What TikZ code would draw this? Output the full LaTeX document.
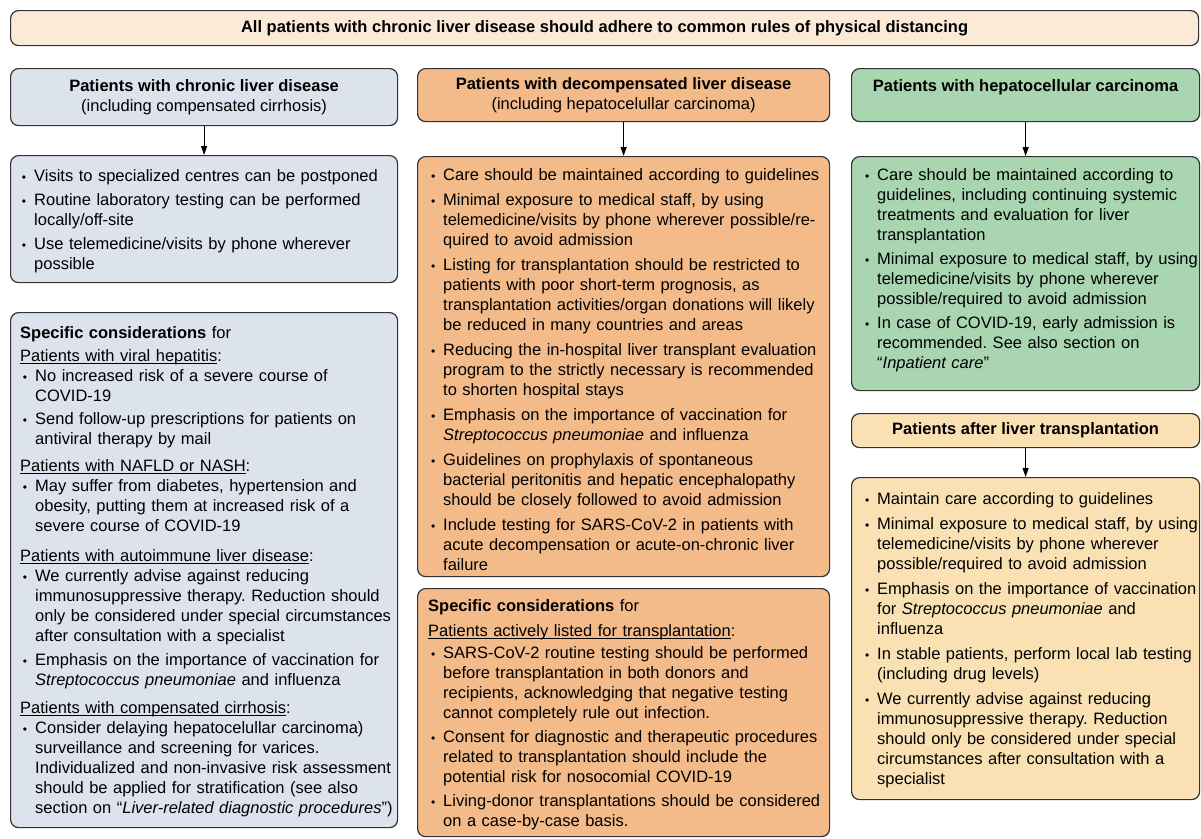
\documentclass[tikz,border=0pt]{standalone}
\usepackage{fontspec}
\setmainfont{Liberation Sans}
\usepackage{enumitem}
\usetikzlibrary{arrows.meta}

\definecolor{graublau}{HTML}{DDE3EC}
\definecolor{lachs}{HTML}{F4BB8A}
\definecolor{gruen}{HTML}{A9D5B1}
\definecolor{sand}{HTML}{F9E1B3}
\definecolor{creme}{HTML}{FAEAD7}
\definecolor{rand}{HTML}{333333}

\setlist[itemize]{label={\fontsize{12}{12}\selectfont\textbullet}, leftmargin=15pt,
  labelsep=8pt, topsep=0pt, partopsep=0pt, parsep=0pt, itemsep=5pt}
\newcommand{\unter}[1]{\leavevmode\setbox0\hbox{#1}\rlap{\rule[-2.6pt]{\wd0}{0.9pt}}\box0}
\frenchspacing

\begin{document}
\begin{tikzpicture}[x=1pt,y=-1pt,
  kasten/.style={draw=rand, line width=1.2pt, rounded corners=8pt, fill=#1,
    inner sep=0pt, anchor=north west, align=center,
    font=\fontsize{16.5}{20}\selectfont},
  liste/.style={inner sep=0pt, anchor=north west, text width=#1,
    font=\fontsize{16.5}{20}\selectfont},
  pfeil/.style={-{Triangle[length=9pt,width=6pt]}, line width=1.2pt, draw=black}]
  \useasboundingbox (0,0) rectangle (1201,838);

  % Kopfzeile
  \node[kasten=creme, minimum width=1188, minimum height=35] (alle) at (10,10)
    {\textbf{All patients with chronic liver disease should adhere to common rules of physical distancing}};

  % Spalte 1
  \node[kasten=graublau, minimum width=387, minimum height=57] (kopf1) at (10,68)
    {\textbf{Patients with chronic liver disease}\\(including compensated cirrhosis)};
  \node[kasten=graublau, minimum width=387, minimum height=127] (liste1) at (10,155) {};
  \node[liste=377] (text1) at ([shift={(9,6)}]liste1.north west) {%
    \begin{itemize}[itemsep=4pt]
      \item Visits to specialized centres can be postponed
      \item Routine laboratory testing can be performed\\ locally/off-site
      \item Use telemedicine/visits by phone wherever\\ possible
    \end{itemize}};
  \draw[pfeil] (kopf1) -- (liste1);

  \node[kasten=graublau, minimum width=387, minimum height=515] (spez1) at (10,312) {};
  \node[liste=378] (spez1text) at ([shift={(10,14)}]spez1.north west) {%
    \textbf{Specific considerations} for\par\vspace{3pt}
    \unter{Patients with viral hepatitis}:
    \begin{itemize}[itemsep=3pt]
      \item No increased risk of a severe course of\\ COVID-19
      \item Send follow-up prescriptions for patients on\\ antiviral therapy by mail
    \end{itemize}
    \vspace{7pt}
    \unter{Patients with NAFLD or NASH}:
    \begin{itemize}[itemsep=3pt]
      \item May suffer from diabetes, hypertension and\\ obesity, putting them at increased risk of a\\ severe course of COVID-19
    \end{itemize}
    \vspace{10pt}
    \unter{Patients with autoimmune liver disease}:
    \begin{itemize}[itemsep=4pt]
      \item We currently advise against reducing\\ immunosuppressive therapy. Reduction should\\ only be considered under special circumstances\\ after consultation with a specialist
      \item Emphasis on the importance of vaccination for\\ \textit{Streptococcus pneumoniae} and influenza
    \end{itemize}
    \vspace{8pt}
    \unter{Patients with compensated cirrhosis}:
    \begin{itemize}[itemsep=3pt]
      \item Consider delaying hepatocelullar carcinoma)\\ surveillance and screening for varices.\\ Individualized and non-invasive risk assessment\\ should be applied for stratification (see also\\ section on ``\textit{Liver-related diagnostic procedures}'')
    \end{itemize}};

  % Spalte 2
  \node[kasten=lachs, minimum width=412, minimum height=53] (kopf2) at (417,68)
    {\textbf{Patients with decompensated liver disease}\\(including hepatocelullar carcinoma)};
  \node[kasten=lachs, minimum width=412, minimum height=420] (liste2) at (417,156) {};
  \node[liste=400] (text2) at ([shift={(11,4)}]liste2.north west) {%
    \begin{itemize}
      \item Care should be maintained according to guidelines
      \item Minimal exposure to medical staff, by using\\ telemedicine/visits by phone wherever possible/re-\\quired to avoid admission
      \item Listing for transplantation should be restricted to\\ patients with poor short-term prognosis, as\\ transplantation activities/organ donations will likely\\ be reduced in many countries and areas
      \item Reducing the in-hospital liver transplant evaluation\\ program to the strictly necessary is recommended\\ to shorten hospital stays
      \item Emphasis on the importance of vaccination for\\ \textit{Streptococcus pneumoniae} and influenza
      \item Guidelines on prophylaxis of spontaneous\\ bacterial peritonitis and hepatic encephalopathy\\ should be closely followed to avoid admission
      \item Include testing for SARS-CoV-2 in patients with\\ acute decompensation or acute-on-chronic liver\\ failure
    \end{itemize}};
  \draw[pfeil] (kopf2) -- (liste2);

  \node[kasten=lachs, minimum width=412, minimum height=248] (spez2) at (417,588) {};
  \node[liste=400] (spez2text) at ([shift={(11,11)}]spez2.north west) {%
    \textbf{Specific considerations} for\par\vspace{5pt}
    \unter{Patients actively listed for transplantation}:\par\vspace{2pt}
    \begin{itemize}[itemsep=4pt]
      \item SARS-CoV-2 routine testing should be performed\\ before transplantation in both donors and\\ recipients, acknowledging that negative testing\\ cannot completely rule out infection.
      \item Consent for diagnostic and therapeutic procedures\\ related to transplantation should include the\\ potential risk for nosocomial COVID-19
      \item Living-donor transplantations should be considered\\ on a case-by-case basis.
    \end{itemize}};

  % Spalte 3
  \node[kasten=gruen, minimum width=348, minimum height=53] (kopf3) at (851,68)
    {\textbf{Patients with hepatocellular carcinoma}\\\mbox{}};
  \node[kasten=gruen, minimum width=348, minimum height=234] (liste3) at (851,156) {};
  \node[liste=338] (text3) at ([shift={(11,4)}]liste3.north west) {%
    \begin{itemize}[itemsep=4pt]
      \item Care should be maintained according to\\ guidelines, including continuing systemic\\ treatments and evaluation for liver\\ transplantation
      \item Minimal exposure to medical staff, by using\\ telemedicine/visits by phone wherever\\ possible/required to avoid admission
      \item In case of COVID-19, early admission is\\ recommended. See also section on\\ ``\textit{Inpatient care}''
    \end{itemize}};
  \draw[pfeil] (kopf3) -- (liste3);

  \node[kasten=sand, minimum width=348, minimum height=34] (kopf4) at (851,413)
    {\textbf{Patients after liver transplantation}};
  \node[kasten=sand, minimum width=348, minimum height=322] (liste4) at (851,477) {};
  \node[liste=338] (text4) at ([shift={(11,7)}]liste4.north west) {%
    \begin{itemize}
      \item Maintain care according to guidelines
      \item Minimal exposure to medical staff, by using\\ telemedicine/visits by phone wherever\\ possible/required to avoid admission
      \item Emphasis on the importance of vaccination\\ for \textit{Streptococcus pneumoniae} and\\ influenza
      \item In stable patients, perform local lab testing\\ (including drug levels)
      \item We currently advise against reducing\\ immunosuppressive therapy. Reduction\\ should only be considered under special\\ circumstances after consultation with a\\ specialist
    \end{itemize}};
  \draw[pfeil] (kopf4) -- (liste4);
\end{tikzpicture}
\end{document}
